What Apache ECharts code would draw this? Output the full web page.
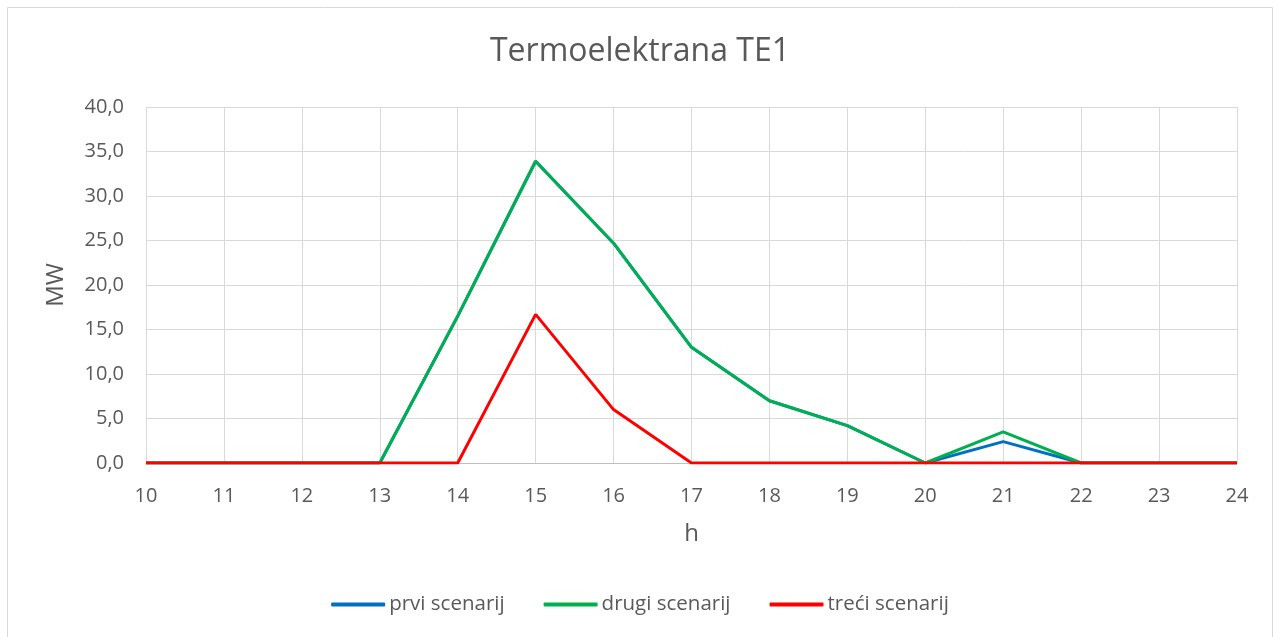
<!DOCTYPE html>
<html>
<head>
<meta charset="utf-8">
<script src="https://cdn.jsdelivr.net/npm/echarts@6/dist/echarts.min.js"></script>
<style>
  html, body { margin: 0; padding: 0; background: #fff; }
  #chart { width: 1280px; height: 637px; }
</style>
</head>
<body>
<div id="chart"></div>
<script>
// sati (h)
var hours = ['10', '11', '12', '13', '14', '15', '16', '17', '18', '19', '20', '21', '22', '23', '24'];
// snaga u MW
var prviScenarij  = [0, 0, 0, 0, 16.5, 33.9, 24.7, 13.0, 7.0, 4.2, 0, 2.4, 0, 0, 0];
var drugiScenarij = [0, 0, 0, 0, 16.5, 33.9, 24.7, 13.0, 7.0, 4.2, 0, 3.5, 0, 0, 0];
var treciScenarij = [0, 0, 0, 0, 0, 16.7, 6.0, 0, 0, 0, 0, 0, 0, 0, 0];

var font = '"Open Sans", "Noto Sans", sans-serif';
var grey = '#595959';

var myChart = echarts.init(document.getElementById('chart'));

var option = {
    animation: false,
    textStyle: { fontFamily: font },
    graphic: [{
        type: 'rect',
        shape: { x: 7.5, y: 7.5, width: 1265, height: 640 },
        style: { fill: 'none', stroke: '#d9d9d9', lineWidth: 1 },
        silent: true
    }],
    title: {
        text: 'Termoelektrana TE1',
        left: 'center',
        top: 31,
        textStyle: { fontFamily: font, fontSize: 32, fontWeight: 'normal', color: grey }
    },
    legend: {
        bottom: 17,
        left: 'center',
        itemGap: 39,
        itemWidth: 54,
        itemHeight: 4,
        icon: 'roundRect',
        textStyle: { fontFamily: font, fontSize: 20.5, color: grey, padding: [0, 0, 0, -1] },
        data: ['prvi scenarij', 'drugi scenarij', 'treći scenarij']
    },
    grid: { left: 146, right: 43, top: 107, bottom: 174 },
    xAxis: {
        type: 'category',
        data: hours,
        boundaryGap: false,
        name: 'h',
        nameLocation: 'middle',
        nameGap: 59,
        nameTextStyle: { fontFamily: font, fontSize: 24, color: grey },
        axisLine: { lineStyle: { color: '#bfbfbf', width: 1 } },
        axisTick: { show: false },
        axisLabel: { fontFamily: font, fontSize: 20, color: grey, margin: 23 },
        splitLine: { show: true, lineStyle: { color: '#d9d9d9', width: 1 } }
    },
    yAxis: {
        type: 'value',
        min: 0,
        max: 40,
        interval: 5,
        name: 'MW',
        nameLocation: 'middle',
        nameGap: 78,
        nameTextStyle: { fontFamily: font, fontSize: 24, color: grey },
        axisLine: { show: false },
        axisTick: { show: false },
        axisLabel: {
            fontFamily: font, fontSize: 20, color: grey, margin: 22,
            formatter: function (v) { return v.toFixed(1).replace('.', ','); }
        },
        splitLine: { lineStyle: { color: '#d9d9d9', width: 1 } }
    },
    series: [
        {
            name: 'prvi scenarij', type: 'line', data: prviScenarij,
            symbol: 'none', lineStyle: { width: 3, color: '#0070C0' }, itemStyle: { color: '#0070C0' }
        },
        {
            name: 'drugi scenarij', type: 'line', data: drugiScenarij,
            symbol: 'none', lineStyle: { width: 3, color: '#00B050' }, itemStyle: { color: '#00B050' }
        },
        {
            name: 'treći scenarij', type: 'line', data: treciScenarij,
            symbol: 'none', lineStyle: { width: 3, color: '#FF0000' }, itemStyle: { color: '#FF0000' }
        }
    ]
};

myChart.setOption(option);
</script>
</body>
</html>
